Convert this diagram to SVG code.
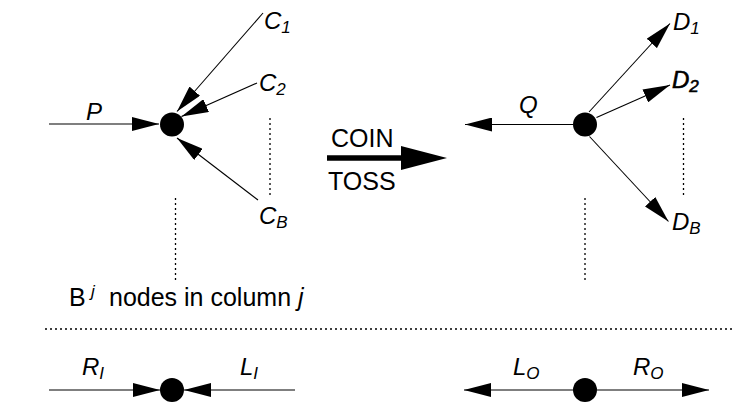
<svg xmlns="http://www.w3.org/2000/svg" width="733" height="402" viewBox="0 0 733 402">
<style>
.e{stroke:#000;stroke-width:1.1;fill:none;marker-end:url(#ah)}
.dot{stroke:#000;stroke-width:1.3;stroke-dasharray:2 3;fill:none}
.n{fill:#000}
.lb{font-family:"Liberation Sans",Arial,sans-serif;font-style:italic;font-size:24px;fill:#000}
.sb{font-size:17px}
.tx{font-family:"Liberation Sans",Arial,sans-serif;font-size:25px;fill:#000}
.sup{font-family:"Liberation Sans",Arial,sans-serif;font-size:17px;font-style:italic;fill:#000}
</style>
<defs>
<marker id="ah" viewBox="0 0 27 14" refX="27" refY="7" markerWidth="27" markerHeight="14" markerUnits="userSpaceOnUse" orient="auto">
<path d="M0,0 L27,7 L0,14 Z" fill="#000"/>
</marker>
</defs>
<g id="connectors">
<line class="e" x1="49" y1="124" x2="159" y2="124"/>
<line class="e" x1="263" y1="13" x2="177" y2="111.5"/>
<line class="e" x1="257" y1="83" x2="181.5" y2="116.5"/>
<line class="e" x1="258" y1="200" x2="177" y2="138"/>
<line class="e" x1="573" y1="124.5" x2="465" y2="124.5"/>
<line class="e" x1="589" y1="112" x2="670" y2="23.5"/>
<line class="e" x1="596.5" y1="117.5" x2="670" y2="85"/>
<line class="e" x1="589.5" y1="136.5" x2="668.5" y2="221.5"/>
<line class="e" x1="49" y1="390" x2="160" y2="390"/>
<line class="e" x1="295" y1="390" x2="184" y2="390"/>
<line class="e" x1="573" y1="390" x2="464" y2="390"/>
<line class="e" x1="597" y1="390" x2="709" y2="390"/>
<line x1="327" y1="158" x2="405" y2="158" stroke="#000" stroke-width="5.5"/>
<polygon points="401,146 447,158 401,170" fill="#000"/>
</g>
<g id="dotted">
<line class="dot" x1="270" y1="118" x2="270" y2="198"/>
<line class="dot" x1="175.5" y1="198" x2="175.5" y2="280"/>
<line class="dot" x1="683.5" y1="118" x2="683.5" y2="198"/>
<line class="dot" x1="585" y1="198" x2="585" y2="280"/>
<line class="dot" x1="45" y1="329" x2="733" y2="329"/>
</g>
<g id="node-left"><circle class="n" cx="172" cy="124.5" r="12"/></g>
<g id="node-right"><circle class="n" cx="585" cy="124.5" r="12"/></g>
<g id="node-bottom-left"><circle class="n" cx="172" cy="390" r="12"/></g>
<g id="node-bottom-right"><circle class="n" cx="585" cy="390" r="12"/></g>
<g id="labels">
<text class="lb" x="86" y="120">P</text>
<text class="lb" x="264" y="29">C<tspan class="sb" dy="4">1</tspan></text>
<text class="lb" x="259" y="91">C<tspan class="sb" dy="4">2</tspan></text>
<text class="lb" x="259" y="224">C<tspan class="sb" dy="4">B</tspan></text>
<text class="lb" x="519" y="113">Q</text>
<text class="lb" x="673" y="30">D<tspan class="sb" dy="4">1</tspan></text>
<text class="lb" x="672" y="88" stroke="#000" stroke-width="0.6">D<tspan class="sb" dy="4">2</tspan></text>
<text class="lb" x="672" y="230">D<tspan class="sb" dy="4">B</tspan></text>
<text class="lb" x="82" y="375">R<tspan class="sb" dy="4">I</tspan></text>
<text class="lb" x="240" y="375">L<tspan class="sb" dy="4">I</tspan></text>
<text class="lb" x="513" y="375">L<tspan class="sb" dy="4">O</tspan></text>
<text class="lb" x="633" y="375">R<tspan class="sb" dy="4">O</tspan></text>
<text class="tx" x="331" y="147">COIN</text>
<text class="tx" x="328" y="190">TOSS</text>
<text class="tx" x="69" y="306">B</text>
<text class="sup" x="91" y="297">j</text>
<text class="tx" x="109" y="306">nodes in column <tspan font-style="italic">j</tspan></text>
</g>
</svg>
